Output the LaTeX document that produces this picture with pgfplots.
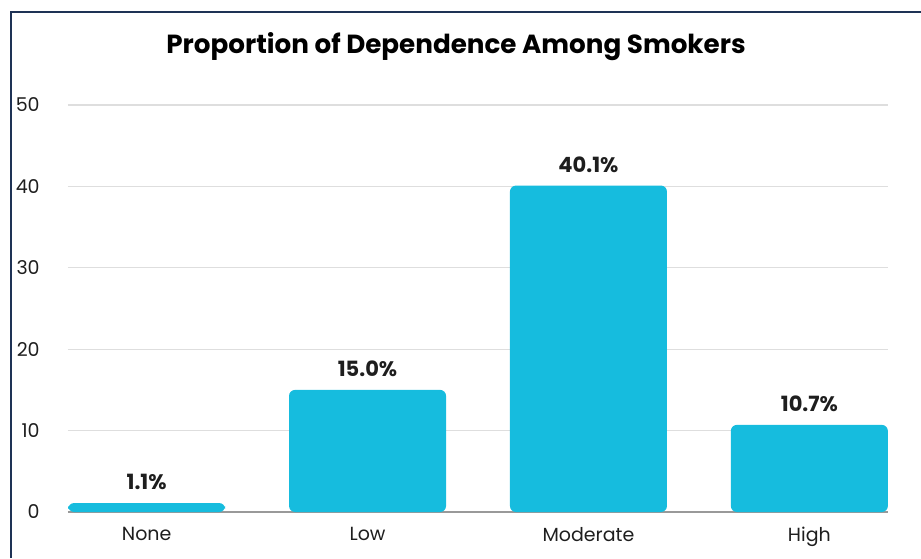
\documentclass[border=0pt]{standalone}
\usepackage{pgfplots}
\pgfplotsset{compat=1.18}
\usepackage{fontspec}
\setmainfont{Poppins}
\definecolor{barc}{RGB}{22,188,222}
\definecolor{framec}{RGB}{30,50,85}
\definecolor{gridc}{RGB}{222,222,222}
\definecolor{txt}{RGB}{30,30,30}
\begin{document}
\begin{tikzpicture}
\useasboundingbox (0,0) rectangle (460.5pt,279pt);
\draw[framec, line width=1.1pt] (5.5pt,0) -- (5.5pt,273pt) -- (460.5pt,273pt);
\node[font=\fontsize{13.1}{15}\selectfont\bfseries, text=black] at (228pt,255.5pt) {Proportion of Dependence Among Smokers};
\begin{axis}[
  at={(34pt,23pt)}, anchor=south west,
  scale only axis, width=410pt, height=203.5pt,
  xmin=-0.356, xmax=3.356, ymin=0, ymax=50,
  ybar, bar width=78.5pt,
  axis x line=bottom, axis y line=left,
  x axis line style={-, draw=gray!80, line width=0.6pt},
  y axis line style={draw=none},
  xtick=data, xticklabels={None,Low,Moderate,High},
  ytick={0,10,20,30,40,50},
  ymajorgrids, grid style={gridc, line width=0.6pt},
  tick style={draw=none},
  /pgf/number format/assume math mode=true,
  ticklabel style={font=\fontsize{9.5}{11}\selectfont, text=txt},
  yticklabel style={anchor=east, xshift=-8.5pt},
  xticklabel style={yshift=-2pt},
  nodes near coords,
  point meta=explicit symbolic,
  nodes near coords style={font=\fontsize{10.5}{12}\selectfont\bfseries, text=txt, yshift=3pt},
  clip=false,
]
\addplot[fill=barc, draw=none, rounded corners=3pt] coordinates {(0,1.1)[1.1\%] (1,15.0)[15.0\%] (2,40.1)[40.1\%] (3,10.7)[10.7\%]};
\end{axis}
\end{tikzpicture}
\end{document}
